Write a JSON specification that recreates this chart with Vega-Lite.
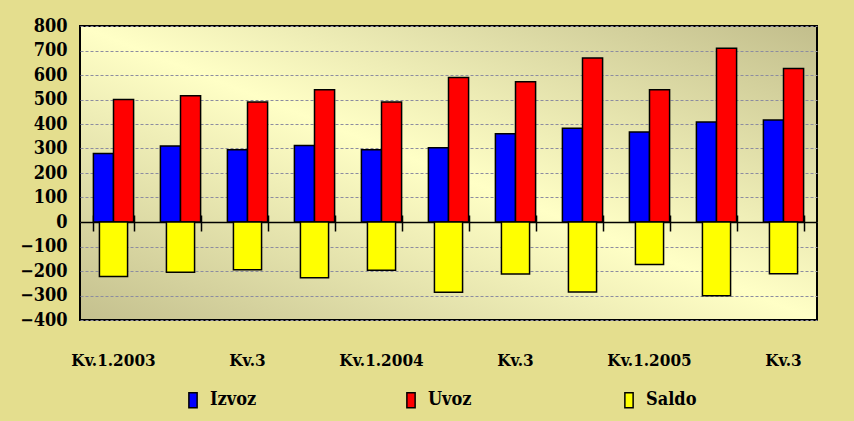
{
  "$schema": "https://vega.github.io/schema/vega-lite/v6.json",
  "width": 737,
  "height": 294,
  "autosize": {"type": "none"},
  "padding": {"left": 80, "top": 26, "right": 37, "bottom": 101},
  "background": "#E4DE8E",
  "config": {
    "view": {
      "stroke": "black",
      "strokeWidth": 2,
      "fill": {
        "gradient": "linear", "x1": 0, "y1": 1, "x2": 1, "y2": 0,
        "stops": [
          {"offset": 0, "color": "#C4C08E"},
          {"offset": 0.5, "color": "#FFFFC6"},
          {"offset": 1, "color": "#C2BE8C"}
        ]
      }
    }
  },
  "data": {
    "values": [
      {"k": "Kv.1.2003", "s": "Izvoz", "v": 280}, {"k": "Kv.1.2003", "s": "Uvoz", "v": 500}, {"k": "Kv.1.2003", "s": "Saldo", "v": -222},
      {"k": "Kv.2.2003", "s": "Izvoz", "v": 310}, {"k": "Kv.2.2003", "s": "Uvoz", "v": 515}, {"k": "Kv.2.2003", "s": "Saldo", "v": -205},
      {"k": "Kv.3.2003", "s": "Izvoz", "v": 295}, {"k": "Kv.3.2003", "s": "Uvoz", "v": 490}, {"k": "Kv.3.2003", "s": "Saldo", "v": -195},
      {"k": "Kv.4.2003", "s": "Izvoz", "v": 312}, {"k": "Kv.4.2003", "s": "Uvoz", "v": 540}, {"k": "Kv.4.2003", "s": "Saldo", "v": -228},
      {"k": "Kv.1.2004", "s": "Izvoz", "v": 295}, {"k": "Kv.1.2004", "s": "Uvoz", "v": 490}, {"k": "Kv.1.2004", "s": "Saldo", "v": -197},
      {"k": "Kv.2.2004", "s": "Izvoz", "v": 303}, {"k": "Kv.2.2004", "s": "Uvoz", "v": 590}, {"k": "Kv.2.2004", "s": "Saldo", "v": -287},
      {"k": "Kv.3.2004", "s": "Izvoz", "v": 360}, {"k": "Kv.3.2004", "s": "Uvoz", "v": 572}, {"k": "Kv.3.2004", "s": "Saldo", "v": -212},
      {"k": "Kv.4.2004", "s": "Izvoz", "v": 383}, {"k": "Kv.4.2004", "s": "Uvoz", "v": 669}, {"k": "Kv.4.2004", "s": "Saldo", "v": -286},
      {"k": "Kv.1.2005", "s": "Izvoz", "v": 367}, {"k": "Kv.1.2005", "s": "Uvoz", "v": 540}, {"k": "Kv.1.2005", "s": "Saldo", "v": -173},
      {"k": "Kv.2.2005", "s": "Izvoz", "v": 408}, {"k": "Kv.2.2005", "s": "Uvoz", "v": 709}, {"k": "Kv.2.2005", "s": "Saldo", "v": -301},
      {"k": "Kv.3.2005", "s": "Izvoz", "v": 416}, {"k": "Kv.3.2005", "s": "Uvoz", "v": 627}, {"k": "Kv.3.2005", "s": "Saldo", "v": -211}
    ]
  },
  "encoding": {
    "y": {
      "field": "v", "type": "quantitative",
      "scale": {"domain": [-400, 800], "nice": false},
      "axis": {
        "title": null, "domain": false, "ticks": false,
        "values": [-400, -300, -200, -100, 0, 100, 200, 300, 400, 500, 600, 700, 800],
        "labelOverlap": false,
        "labelFont": "DejaVu Serif Condensed, DejaVu Serif", "labelFontSize": 18, "labelFontWeight": "bold", "labelColor": "black", "labelPadding": 13,
        "grid": true, "gridColor": "#8C8CA0", "gridDash": [3, 2], "gridWidth": 1
      }
    }
  },
  "layer": [
    {
      "transform": [{"filter": "datum.s !== 'Saldo'"}],
      "mark": {"type": "bar", "stroke": "black", "strokeWidth": 1.5},
      "encoding": {
        "x": {
          "field": "k", "type": "nominal", "sort": null,
          "scale": {"paddingInner": 0.4, "paddingOuter": 0.2},
          "axis": {
            "orient": "bottom", "offset": -98, "title": null, "labels": false,
            "domain": true, "domainColor": "black", "domainWidth": 1.5,
            "ticks": true, "tickColor": "black", "tickWidth": 1.5, "tickSize": 9,
            "tickBand": "extent", "grid": false
          }
        },
        "xOffset": {"field": "s", "sort": ["Izvoz", "Uvoz"], "scale": {"paddingInner": 0, "paddingOuter": 0}},
        "color": {
          "field": "s", "type": "nominal",
          "scale": {"domain": ["Izvoz", "Uvoz", "Saldo"], "range": ["#0000FF", "#FF0000", "#FFFF00"]},
          "legend": {
            "title": null, "orient": "none", "legendX": 104, "legendY": 365,
            "direction": "horizontal", "columns": 3, "gridAlign": "all", "columnPadding": 141,
            "symbolType": "M-0.55,-1H0.55V1H-0.55Z", "symbolSize": 225,
            "symbolStrokeColor": "black", "symbolStrokeWidth": 1.5,
            "labelFont": "DejaVu Serif Condensed, DejaVu Serif", "labelFontSize": 18, "labelFontWeight": "bold", "labelColor": "black", "labelOffset": 8
          }
        }
      }
    },
    {
      "transform": [{"filter": "datum.s === 'Saldo'"}],
      "mark": {"type": "bar", "stroke": "black", "strokeWidth": 1.5, "width": {"band": 0.7}},
      "encoding": {
        "x": {
          "field": "k", "type": "nominal", "sort": null,
          "axis": {
            "orient": "bottom", "title": null, "domain": false, "ticks": false, "tickSize": 0,
            "labelAngle": 0, "labelFont": "DejaVu Serif Condensed, DejaVu Serif", "labelFontSize": 17, "labelFontWeight": "bold", "labelColor": "black",
            "labelBaseline": "alphabetic", "labelPadding": 45, "grid": false, "labelOverlap": false,
            "labelExpr": "indexof(datum.label, 'Kv.1') === 0 ? datum.label : (indexof(datum.label, 'Kv.3') === 0 ? 'Kv.3' : '')"
          }
        },
        "color": {"field": "s", "type": "nominal"}
      }
    },
    {
      "transform": [{"filter": "datum.s === 'Saldo'"}],
      "mark": {"type": "bar", "opacity": 0},
      "encoding": {
        "x": {
          "field": "k", "type": "nominal", "sort": null,
          "axis": {
            "orient": "top", "offset": -196, "title": null, "labels": false, "domain": false,
            "ticks": true, "tickColor": "black", "tickWidth": 1.5, "tickSize": 7,
            "tickBand": "extent", "grid": false
          }
        }
      }
    }
  ],
  "resolve": {"axis": {"x": "independent"}}
}
